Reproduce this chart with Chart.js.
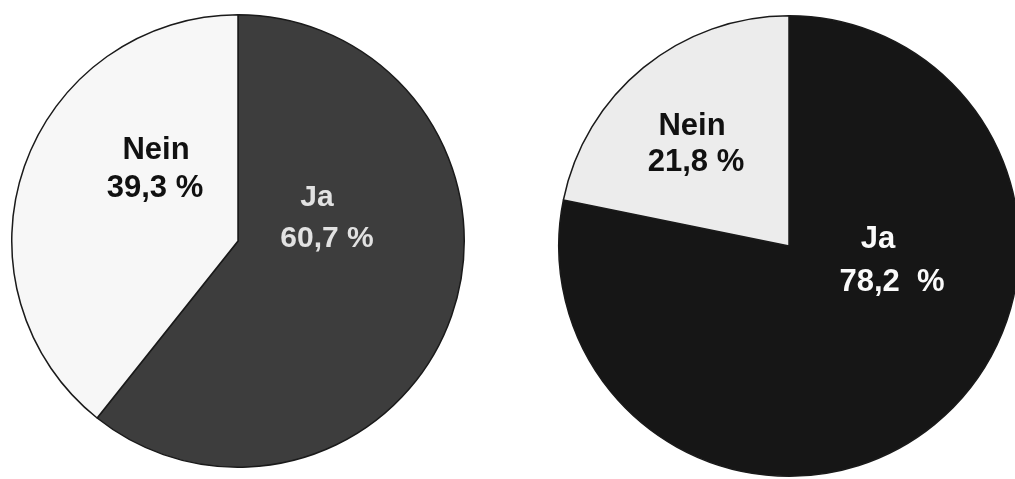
<!DOCTYPE html>
<html>
<head>
<meta charset="utf-8">
<script src="https://cdn.jsdelivr.net/npm/chart.js@4.4.0/dist/chart.umd.min.js"></script>
<style>
  html, body { margin: 0; padding: 0; background: #fff; overflow: hidden; width: 1015px; height: 479px; }
  canvas { position: absolute; }
  #left { left: 10px; top: 13px; }
  #right { left: 557px; top: 14px; }
</style>
</head>
<body>
<canvas id="left" width="456" height="456"></canvas>
<canvas id="right" width="464" height="464"></canvas>
<script>
const categories = ['Ja', 'Nein'];
const leftValues = [60.7, 39.3];
const rightValues = [78.2, 21.8];

const fmt = (v, sep) => v.toFixed(1).replace('.', ',') + sep + '%';

// draws name + percent inside each slice, offsets are from the pie centre
const sliceLabels = {
  id: 'sliceLabels',
  afterDatasetsDraw(chart, args, opts) {
    const ctx = chart.ctx;
    const arcs = chart.getDatasetMeta(0).data;
    const values = chart.data.datasets[0].data;
    arcs.forEach((arc, i) => {
      const s = opts.slices[i];
      ctx.save();
      ctx.fillStyle = s.color;
      ctx.font = s.font;
      ctx.textAlign = 'center';
      ctx.textBaseline = 'middle';
      ctx.fillText(chart.data.labels[i], arc.x + s.name[0], arc.y + s.name[1]);
      ctx.fillText(fmt(values[i], s.sep), arc.x + s.pct[0], arc.y + s.pct[1]);
      ctx.restore();
    });
  }
};

function makePie(id, values, colors, slices) {
  return new Chart(document.getElementById(id), {
    type: 'pie',
    data: {
      labels: categories,
      datasets: [{
        data: values,
        backgroundColor: colors,
        borderColor: '#1a1a1a',
        borderWidth: 1.5
      }]
    },
    options: {
      responsive: false,
      animation: false,
      devicePixelRatio: 1,
      layout: { padding: 1 },
      plugins: {
        legend: { display: false },
        tooltip: { enabled: false },
        sliceLabels: { slices: slices }
      }
    },
    plugins: [sliceLabels]
  });
}

const F = '"Liberation Sans", Arial, sans-serif';

makePie('left', leftValues, ['#3d3d3d', '#f7f7f7'], [
  { color: '#e2e2e2', font: 'bold 30px ' + F, sep: ' ', name: [79, -43], pct: [89, -2] },
  { color: '#111', font: 'bold 31px ' + F, sep: ' ', name: [-82, -91], pct: [-83, -53] }
]);

makePie('right', rightValues, ['#161616', '#ececec'], [
  { color: '#fafafa', font: 'bold 31px ' + F, sep: '  ', name: [89, -7], pct: [103, 36] },
  { color: '#111', font: 'bold 31px ' + F, sep: ' ', name: [-97, -120], pct: [-93, -84] }
]);
</script>
</body>
</html>
